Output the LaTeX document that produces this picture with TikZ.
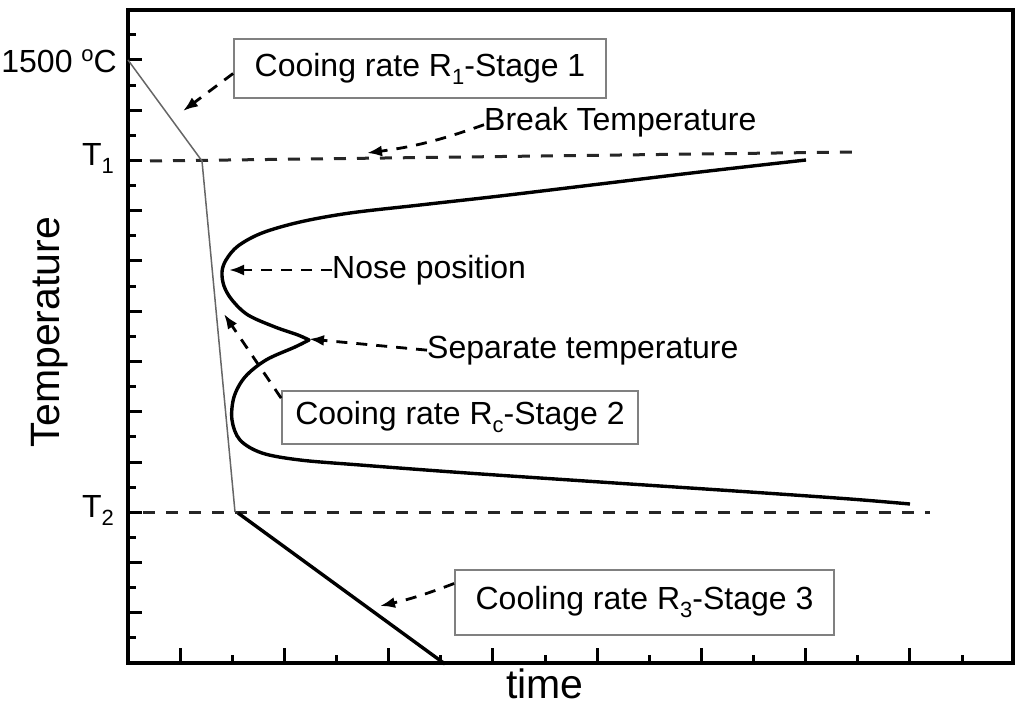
\documentclass[tikz,border=0pt]{standalone}
\usepackage{fontspec}
\setmainfont{Liberation Sans}
\usetikzlibrary{arrows.meta}
\newcommand\lowsub[1]{\raisebox{-8pt}{\fontsize{22}{22}\selectfont #1}}
\newcommand\highsup[1]{\raisebox{11pt}{\fontsize{22}{22}\selectfont #1}}
\begin{document}
\begin{tikzpicture}[x=1pt,y=-1pt,
  lbl/.style={font=\fontsize{32}{38}\selectfont, inner sep=0pt},
  axl/.style={font=\fontsize{41}{48}\selectfont, inner sep=0pt},
  boxnode/.style={draw=black!50, line width=1.8pt, font=\fontsize{32}{38}\selectfont, inner sep=0pt},
  frame/.style={line width=3.2pt, black},
  tickline/.style={line width=3pt, black},
  refdash/.style={line width=3pt, black!85, dash pattern=on 12pt off 11pt},
  ann/.style={line width=2.8pt, black, dash pattern=on 11pt off 9pt, -{Latex[length=15pt,width=11pt]}},
  thinpath/.style={line width=1.5pt, black!60},
  thickpath/.style={line width=3.4pt, black},
  ccurve/.style={line width=3.4pt, black, line join=round}]
\useasboundingbox (0,0) rectangle (1024,708);
% frame
\draw[frame] (128,10) rectangle (1013,663);
% x ticks
\foreach \k in {1,...,16}{
  \pgfmathsetmacro\xx{128+52.125*\k}
  \ifodd\k
    \draw[tickline] (\xx,663) -- (\xx,648);
  \else
    \draw[tickline] (\xx,663) -- (\xx,655);
  \fi
}
% y ticks
\foreach \j in {1,...,25}{
  \pgfmathsetmacro\yy{663-25.125*\j}
  \ifodd\j
    \draw[tickline] (128,\yy) -- (136,\yy);
  \else
    \draw[tickline] (128,\yy) -- (142,\yy);
  \fi
}
% axis labels
\node[lbl, anchor=east] (l1500) at (117,61) {1500 \highsup{o}C};
\node[lbl, anchor=base east] (lT1) at (114,166) {T\lowsub{1}};
\node[lbl, anchor=base east] (lT2) at (114,517) {T\lowsub{2}};
\node[axl, rotate=90] (ylab) at (50,332) {Temperature};
\node[axl, anchor=base] (xlab) at (545,698) {time};
% reference dashed lines
\coordinate (d1a) at (150,161);
\coordinate (d1b) at (855,152);
\coordinate (d2a) at (143,512);
\coordinate (d2b) at (930,512);
\draw[refdash] (d1a) -- (d1b);
\draw[refdash] (d2a) -- (d2b);
% cooling path
\coordinate (p0) at (128,60);
\coordinate (p1) at (202,161);
\coordinate (p2) at (235,512);
\coordinate (p2b) at (238,513);
\coordinate (p3) at (445,664);
\draw[thinpath] (p0) -- (p1) -- (p2);
\draw[thickpath] (p2b) -- (p3);
% C-curve
\draw[ccurve] plot[smooth, tension=0.55] coordinates {(806,160) (700,172) (600,184) (500,196) (420,205) (350,213) (300,222) (262,233) (238,246) (226,260) (222,272) (224,286) (232,300) (248,315) (275,327) (298,335) (309,340)}
  -- plot[smooth, tension=0.55] coordinates {(309,340) (295,347) (266,360) (245,377) (234,397) (232,420) (240,440) (262,453) (300,460) (360,465) (467,473) (600,482) (750,492) (850,499) (910,504)};
% boxes
\node[boxnode, minimum width=372pt, minimum height=59pt] (b1) at (420,68.5) {Cooing rate R\lowsub{1}-Stage 1};
\node[boxnode, minimum width=356pt, minimum height=53pt] (b2) at (460,417.5) {Cooing rate R\lowsub{c}-Stage 2};
\node[boxnode, minimum width=379pt, minimum height=65pt] (b3) at (644.5,602.5) {Cooling rate R\lowsub{3}-Stage 3};
% free labels
\node[lbl, anchor=base west] (brk) at (484,131) {Break Temperature};
\node[lbl, anchor=base west] (nose) at (332,279) {Nose position};
\node[lbl, anchor=base west] (sep) at (427,358) {Separate temperature};
% arrow targets
\coordinate (a1) at (183,111);
\coordinate (a2) at (367,153);
\coordinate (a3) at (229,270);
\coordinate (a4) at (309,339);
\coordinate (a5) at (224,314);
\coordinate (a6) at (380,606);
% annotation arrows
\draw[ann] ([yshift=-5pt]b1.west) -- (a1);
\draw[ann] ([yshift=-2pt]brk.west) to[bend left=6] (a2);
\draw[ann] (nose.west |- a3) -- (a3);
\draw[ann] (sep.west) -- (a4);
\draw[ann] ([yshift=-8pt]b2.north west) -- (a5);
\draw[ann] ([yshift=19pt]b3.west) to[bend left=4] (a6);
\end{tikzpicture}
\end{document}
